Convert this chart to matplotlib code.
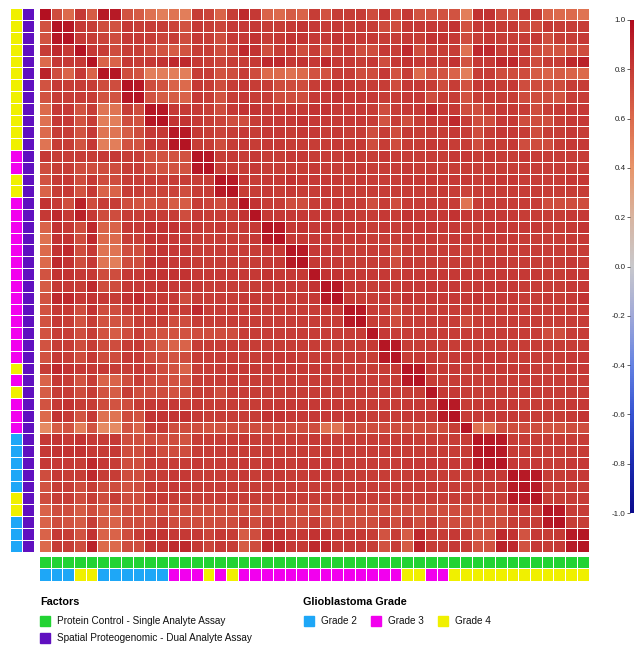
import numpy as np
import matplotlib
matplotlib.use('Agg')
import matplotlib.pyplot as plt
from matplotlib.colors import LinearSegmentedColormap, ListedColormap
from matplotlib.patches import Rectangle

plt.rcParams['font.family'] = ['Liberation Sans', 'DejaVu Sans']

# =====================
# data (correlation x100, rows top -> bottom, 47 columns)
CORR_ROWS = [
    "97 72 60 81 66 93 93 70 66 57 50 55 50 79 76 63 79 87 81 63 60 66 63 79 70 79 79 79 72 81 72 81 70 70 70 70 50 83 83 72 70 79 79 63 60 60 55",
    "70 96 94 81 79 72 70 81 79 79 79 76 70 81 79 76 81 81 81 79 79 81 83 81 79 81 79 81 79 72 72 81 81 81 81 83 70 81 81 79 81 72 72 81 79 79 79",
    "70 94 96 81 79 76 72 81 81 79 76 79 72 81 79 72 81 81 83 79 81 83 83 81 81 83 81 81 81 79 79 81 79 83 83 81 72 79 81 79 79 79 81 72 79 79 81",
    "79 87 81 96 81 79 72 79 79 72 70 66 70 79 79 72 76 87 83 72 79 81 72 79 72 79 81 72 72 81 79 87 72 79 79 79 57 87 87 79 79 79 72 70 70 72 72",
    "60 81 81 81 96 63 63 81 79 81 83 87 87 81 79 76 79 79 81 87 87 81 83 81 87 81 81 79 81 72 81 83 81 81 79 83 70 81 81 87 87 79 72 79 79 87 90",
    "90 72 63 81 63 96 95 72 70 50 50 50 50 79 79 70 72 79 72 60 60 57 60 70 70 79 79 72 72 81 70 79 60 70 70 63 50 79 79 72 72 72 66 63 66 63 60",
    "70 81 79 79 79 72 72 96 94 72 70 63 60 81 79 72 79 81 79 79 72 72 72 79 81 83 81 79 79 79 72 81 81 79 72 79 70 81 81 79 81 72 72 72 72 79 79",
    "70 79 79 79 79 70 70 94 96 70 66 66 63 81 79 70 79 81 79 79 72 72 72 81 81 83 81 81 81 79 79 81 81 72 79 79 70 79 79 79 79 72 72 72 70 79 79",
    "60 81 81 70 79 55 55 79 72 95 94 81 81 81 79 72 81 83 83 81 81 81 81 83 83 81 81 81 79 72 79 81 81 87 81 81 72 72 79 81 81 79 72 79 81 81 81",
    "57 81 81 70 79 50 50 72 70 94 96 83 83 81 79 76 72 72 79 81 81 81 83 81 81 81 81 81 79 70 79 72 79 81 81 87 79 72 72 81 81 72 72 72 79 81 81",
    "60 79 79 70 81 55 55 66 72 81 81 94 93 81 79 76 79 81 79 81 81 79 81 81 79 81 79 79 72 79 72 81 79 79 79 81 79 72 79 81 81 79 72 79 79 81 79",
    "55 79 79 70 81 50 50 70 70 81 81 94 96 79 79 72 79 81 79 81 81 79 79 79 79 81 79 81 72 79 72 79 79 81 81 79 79 72 79 79 81 72 72 72 79 81 81",
    "81 79 79 79 79 81 81 79 79 70 70 70 70 95 94 79 81 79 81 79 79 81 81 79 79 79 81 79 79 81 79 79 79 79 79 81 81 79 81 79 79 81 79 79 79 79 79",
    "72 79 79 72 72 72 72 79 79 72 70 70 70 94 96 79 79 79 81 79 79 79 79 81 79 79 79 81 79 79 79 81 79 79 79 79 79 79 79 79 79 79 79 79 79 79 79",
    "70 81 81 72 81 72 72 79 79 79 79 79 79 79 79 95 93 81 79 81 81 83 81 81 81 81 79 81 79 79 79 81 81 81 81 81 81 79 81 81 81 79 79 79 79 81 81",
    "63 79 81 70 81 63 63 79 79 76 76 76 72 79 79 93 96 79 79 81 79 81 79 79 81 79 79 79 79 79 79 79 79 79 81 79 76 79 79 79 79 79 79 79 79 79 79",
    "83 81 72 90 72 79 79 72 70 70 72 66 66 79 76 72 79 96 83 79 79 72 72 79 79 81 79 79 72 79 72 79 79 79 79 79 55 79 79 79 79 79 79 72 72 72 72",
    "81 87 81 90 81 72 72 79 79 81 79 79 72 81 79 79 79 83 96 81 81 81 81 81 81 81 81 79 79 81 79 83 81 81 81 83 81 81 81 81 81 79 79 79 79 81 81",
    "63 83 81 72 87 63 63 81 81 83 83 83 81 81 79 81 79 81 81 95 93 81 83 81 83 83 81 81 79 81 79 81 81 81 81 81 79 79 81 81 81 81 81 79 79 81 83",
    "57 83 83 72 87 60 60 79 79 83 83 81 81 79 79 79 79 79 81 93 96 81 81 81 81 81 81 81 79 79 79 81 81 81 79 81 81 81 81 81 81 79 79 79 79 81 81",
    "60 83 87 72 81 55 55 72 72 81 83 81 81 79 79 79 79 79 79 81 81 95 93 81 81 81 79 79 79 79 72 79 79 79 79 79 76 79 79 79 79 79 79 79 79 79 79",
    "60 87 83 72 81 55 50 72 72 83 83 81 81 79 79 79 79 79 79 81 81 93 96 81 81 81 79 79 79 79 72 81 79 79 79 79 79 79 81 81 79 79 79 79 79 81 79",
    "70 83 83 81 81 72 72 81 81 83 83 83 83 81 81 81 81 81 81 83 81 81 81 95 83 83 81 81 81 81 79 81 81 81 81 81 81 81 81 81 81 81 81 79 79 81 81",
    "66 81 81 79 87 72 72 81 81 81 83 81 81 81 79 79 79 79 79 81 81 81 81 83 95 93 81 81 79 81 79 81 81 81 81 81 79 81 81 81 81 79 79 79 79 81 81",
    "70 87 87 81 83 81 79 83 87 81 81 81 72 79 79 79 79 81 81 81 81 79 81 81 93 96 81 79 79 81 79 83 81 81 81 81 81 83 81 81 81 79 79 81 79 81 83",
    "70 81 81 72 83 72 72 79 79 81 81 79 79 87 79 79 79 79 79 79 79 79 79 79 81 81 95 93 79 79 72 79 79 79 79 79 79 79 79 79 79 79 79 79 79 79 79",
    "70 81 79 70 79 70 70 72 79 79 79 72 72 79 79 79 79 79 79 79 79 79 79 79 79 79 93 96 79 79 72 79 79 79 79 79 72 79 79 79 79 79 79 79 79 79 79",
    "70 79 79 72 79 70 66 72 79 72 70 70 70 72 72 72 72 79 79 79 79 79 79 79 79 79 79 79 95 81 79 79 79 79 79 79 79 79 79 79 79 79 79 72 72 79 79",
    "70 79 79 72 79 72 72 79 81 72 66 63 63 79 79 79 79 79 79 79 79 79 79 79 79 79 79 79 81 95 93 79 79 79 79 79 79 79 79 79 79 79 79 79 79 79 79",
    "70 81 79 72 81 72 72 81 81 72 72 70 72 79 79 79 79 79 79 81 81 81 79 79 81 79 79 79 79 93 96 79 81 81 79 81 81 81 81 81 79 79 79 79 79 81 81",
    "79 87 83 81 81 81 79 79 81 79 72 70 63 79 79 79 81 81 81 81 81 81 81 81 81 81 79 79 79 79 81 95 93 81 81 81 79 81 81 81 81 81 79 79 79 81 81",
    "63 81 79 70 79 63 63 72 79 72 72 70 70 79 79 79 79 79 79 79 79 79 79 79 79 79 79 79 79 79 79 93 96 79 79 79 79 79 79 79 79 79 79 79 79 79 79",
    "66 79 79 72 79 70 66 79 72 72 72 70 72 79 79 72 79 79 79 79 79 79 79 79 79 79 79 79 79 79 79 79 79 95 81 81 79 79 79 79 79 79 79 79 79 79 79",
    "70 81 83 79 79 72 70 72 79 81 81 81 79 81 79 79 79 79 79 81 81 81 81 81 81 81 79 79 79 81 79 81 81 81 95 93 79 81 81 81 81 79 79 79 79 81 81",
    "60 83 81 70 81 57 55 72 70 83 83 83 83 81 79 79 79 79 79 83 83 81 81 81 81 81 81 81 79 79 79 81 81 81 93 96 79 81 81 81 81 79 79 79 79 81 83",
    "45 66 70 50 70 45 45 70 63 79 79 72 72 72 70 70 72 72 72 72 72 72 72 72 57 55 72 72 72 72 72 72 72 72 72 79 95 57 55 72 72 72 72 70 70 72 72",
    "81 83 81 83 81 79 81 72 72 72 72 72 70 79 79 79 79 81 79 79 79 79 79 81 79 79 79 79 79 79 79 81 79 79 79 79 79 95 93 93 79 79 79 79 79 79 79",
    "81 83 83 83 81 79 81 72 72 79 72 72 72 79 79 79 79 79 79 79 79 79 79 79 79 79 79 79 79 79 79 79 79 79 79 79 79 93 96 93 79 79 79 79 79 79 79",
    "81 81 81 79 87 81 79 72 72 79 79 79 79 81 79 79 79 81 79 81 81 79 81 81 81 81 79 79 79 79 79 81 81 81 81 81 81 93 93 95 81 81 81 79 79 81 81",
    "72 81 79 79 87 79 79 72 72 79 79 81 81 79 79 79 79 81 79 81 81 79 79 81 81 81 79 79 79 79 79 79 81 79 79 79 79 81 81 81 95 93 93 79 79 81 81",
    "70 79 79 72 79 72 72 70 72 79 79 81 81 79 79 79 79 79 79 79 79 79 79 79 79 79 79 79 79 79 79 79 79 79 79 79 79 79 79 79 93 96 93 79 79 79 79",
    "72 79 79 72 79 72 79 72 72 79 81 79 79 79 79 79 79 79 79 79 79 79 79 79 79 79 79 79 79 79 79 79 79 79 79 79 79 79 79 79 93 93 95 79 79 79 79",
    "63 72 72 66 72 66 66 72 72 72 72 72 72 72 72 72 72 72 72 72 72 72 72 72 72 72 72 72 72 72 72 72 72 72 72 72 72 72 72 72 79 79 79 95 93 79 79",
    "63 72 70 66 79 66 63 72 72 72 79 72 72 72 72 72 72 79 72 79 79 72 72 79 72 72 72 72 72 79 72 79 72 79 72 72 72 72 72 72 79 79 79 93 96 79 79",
    "63 81 79 70 83 63 63 72 79 83 83 81 81 81 76 81 79 66 72 83 83 81 81 83 83 81 81 81 79 70 79 66 87 79 79 81 79 70 70 87 83 70 81 79 81 93 95",
    "60 79 79 72 90 60 60 72 72 83 83 87 87 81 76 81 79 66 72 87 87 81 81 87 87 81 81 81 79 70 79 66 90 79 79 81 79 70 70 90 87 70 81 79 81 93 96",
]

# glioblastoma grade of each row (top -> bottom) and each column (left -> right)
ROW_GRADE = [4]*12 + [3]*2 + [4]*2 + [3]*14 + [4, 3, 4] + [3]*3 + [2]*5 + [4]*2 + [2]*3
COL_GRADE = [2]*3 + [4]*2 + [2]*6 + [3]*3 + [4, 3, 4] + [3]*14 + [4]*2 + [3]*2 + [4]*12

GRADE_COLORS = {2: '#1ea7f7', 3: '#f200ee', 4: '#f0f000'}
FACTOR_COLORS = {'Protein Control - Single Analyte Assay': '#22d333',
                 'Spatial Proteogenomic - Dual Analyte Assay': '#6010c0'}

CBAR_TICKS = [1.0, 0.8, 0.6, 0.4, 0.2, 0.0, -0.2, -0.4, -0.6, -0.8, -1.0]

corr = np.array([[int(v) for v in r.split()] for r in CORR_ROWS]) / 100.0
n_rows, n_cols = corr.shape

# colour scale
cmap = LinearSegmentedColormap.from_list('corr', [
    (0.0, '#0a0a8c'), (0.1, '#1a2ab0'), (0.2, '#3552d2'), (0.3, '#6482e2'),
    (0.4, '#a0a8d8'), (0.5, '#c8c8cc'), (0.6, '#d8b4a0'), (0.7, '#e8956a'),
    (0.8, '#dc6a4c'), (0.9, '#c63c36'), (1.0, '#b00a1e')])

# =====================
# layout in pixels
W, H = 636, 648
fig = plt.figure(figsize=(W/100, H/100), dpi=100)


def px_axes(x0, y0, x1, y1):
    return fig.add_axes([x0/W, 1 - y1/H, (x1 - x0)/W, (y1 - y0)/H])


HX0, HX1, HY0, HY1 = 39, 588.5, 8.3, 551.5
GAP = 0.6

# ------------------
# heatmap
ax = px_axes(HX0, HY0, HX1, HY1)
mesh = ax.pcolormesh(corr, cmap=cmap, vmin=-1, vmax=1,
                     edgecolors='white', linewidth=GAP)
ax.set_xlim(0, n_cols)
ax.set_ylim(n_rows, 0)
ax.axis('off')

# ------------------
# row annotations (grade, factor)
grade_vals = [2, 3, 4]
ann_cmap = ListedColormap([GRADE_COLORS[2], GRADE_COLORS[3], GRADE_COLORS[4],
                           FACTOR_COLORS['Spatial Proteogenomic - Dual Analyte Assay'],
                           FACTOR_COLORS['Protein Control - Single Analyte Assay']])
row_ann = np.array([[grade_vals.index(g), 3] for g in ROW_GRADE])
axl = px_axes(9.5, HY0, 33.5, HY1)
axl.pcolormesh(row_ann, cmap=ann_cmap, vmin=-0.5, vmax=4.5,
               edgecolors='white', linewidth=GAP)
axl.set_xlim(0, 2)
axl.set_ylim(n_rows, 0)
axl.axis('off')

# ------------------
# column annotations (factor, grade)
col_ann = np.array([[4]*n_cols, [grade_vals.index(g) for g in COL_GRADE]])
axb = px_axes(HX0, 556, HX1, 580.5)
axb.pcolormesh(col_ann, cmap=ann_cmap, vmin=-0.5, vmax=4.5,
               edgecolors='white', linewidth=GAP)
axb.set_xlim(0, n_cols)
axb.set_ylim(2, 0)
axb.axis('off')

# ------------------
# colour bar
cax = px_axes(630, 20, 634, 513)
cb = fig.colorbar(mesh, cax=cax, ticks=CBAR_TICKS)
cb.outline.set_visible(False)
cax.yaxis.set_ticks_position('left')
cax.yaxis.set_label_position('left')
cax.tick_params(length=2, width=0.5, labelsize=5.8, pad=1, colors='#222222')
cax.set_yticklabels(['%.1f' % t for t in CBAR_TICKS])

# ------------------
# legends
def legend_item(x, y, color, label):
    fig.patches.append(Rectangle((x/W, 1 - (y + 5)/H), 10/W, 10/H,
                                 transform=fig.transFigure, color=color))
    fig.text((x + 17)/W, 1 - y/H, label, fontsize=7.2, va='center', color='#111111')


fig.text(40/W, 1 - 602/H, 'Factors', fontsize=7.8, fontweight='bold', va='center')
legend_item(40, 621, FACTOR_COLORS['Protein Control - Single Analyte Assay'],
            'Protein Control - Single Analyte Assay')
legend_item(40, 638, FACTOR_COLORS['Spatial Proteogenomic - Dual Analyte Assay'],
            'Spatial Proteogenomic - Dual Analyte Assay')

fig.text(303/W, 1 - 602/H, 'Glioblastoma Grade', fontsize=7.8, fontweight='bold', va='center')
for x, g in zip([304, 371, 438], grade_vals):
    legend_item(x, 621, GRADE_COLORS[g], 'Grade %d' % g)

plt.savefig('out.png', dpi=100)
